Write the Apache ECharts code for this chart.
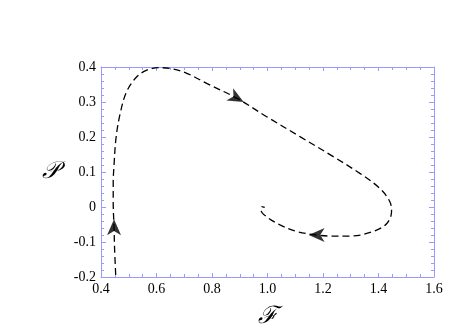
<!DOCTYPE html>
<html>
<head>
<meta charset="utf-8">
<script src="https://cdn.jsdelivr.net/npm/echarts@6/dist/echarts.min.js"></script>
<style>
  html, body { margin: 0; padding: 0; background: #fff; }
  #chart { width: 471px; height: 327px; }
</style>
</head>
<body>
<div id="chart"></div>
<script>
// trajectory in the (F, P) plane
var trajF = [0.453, 0.449, 0.447, 0.444, 0.444, 0.447, 0.454, 0.468, 0.492, 0.529, 0.565, 0.607,
    0.649, 0.709, 0.781, 0.889, 0.997, 1.117, 1.237, 1.333, 1.405, 1.441, 1.447, 1.430,
    1.381, 1.297, 1.225, 1.177, 1.105, 1.045, 0.997, 0.977, 0.979, 0.990];
var trajP = [-0.194, -0.120, -0.059, 0.015, 0.070, 0.120, 0.196, 0.263, 0.329, 0.372, 0.391, 0.398,
    0.396, 0.382, 0.353, 0.311, 0.258, 0.201, 0.144, 0.096, 0.053, 0.015, -0.013, -0.047,
    -0.070, -0.083, -0.083, -0.080, -0.070, -0.051, -0.028, -0.009, 0.001, -0.001];

// arrow heads: position and direction (degrees, counter-clockwise from "up")
var arrowF = [0.447, 0.889, 1.177];
var arrowP = [-0.058, 0.311, -0.080];
var arrowRot = [0, -119, 90];

var xTicks = [0.4, 1.6, 0.2];   // min, max, interval
var yTicks = [-0.2, 0.4, 0.1];

var chart = echarts.init(document.getElementById('chart'));

var line_data = trajF.map(function (f, i) { return [f, trajP[i]]; });
var arrow_data = arrowF.map(function (f, i) {
    return { value: [f, arrowP[i]], symbolRotate: arrowRot[i] };
});

var axisColor = '#9999ff';
var labelFont = { fontFamily: 'Liberation Serif', fontSize: 14, color: '#000' };

function frameAxis(pos, isX, show_labels, minor) {
    var t = isX ? xTicks : yTicks;
    var ax = {
        type: 'value',
        position: pos,
        min: t[0],
        max: t[1],
        interval: t[2],
        axisLine: { show: true, onZero: false, lineStyle: { color: axisColor, width: 1 } },
        axisTick: { show: true, inside: true, length: isX ? 4 : 5, lineStyle: { color: axisColor } },
        minorTick: { show: true, splitNumber: minor, length: 3, lineStyle: { color: axisColor } },
        splitLine: { show: false },
        axisLabel: { show: show_labels, margin: 5 }
    };
    if (show_labels) {
        ax.axisLabel = Object.assign({
            show: true,
            margin: 5,
            formatter: function (v) {
                if (Math.abs(v) < 1e-9) return '0';
                return v.toFixed(1);
            }
        }, labelFont);
    }
    return ax;
}

var xMain = frameAxis('bottom', true, true, 4);
xMain.name = 'ℱ';
xMain.nameLocation = 'middle';
xMain.nameGap = 28;
xMain.nameTextStyle = { fontFamily: 'DejaVu Serif', fontSize: 24, fontStyle: 'italic', color: '#000' };

var yMain = frameAxis('left', false, true, 5);
yMain.name = '𝒫';
yMain.nameLocation = 'middle';
yMain.nameGap = 42;
yMain.nameRotate = 0;
yMain.nameTextStyle = { fontFamily: 'DejaVu Serif', fontSize: 24, fontStyle: 'italic', color: '#000' };

chart.setOption({
    animation: false,
    backgroundColor: '#fff',
    grid: { left: 101, right: 37, top: 67, bottom: 50, containLabel: false, outerBoundsMode: 'none' },
    xAxis: [xMain, frameAxis('top', true, false, 4)],
    yAxis: [yMain, frameAxis('right', false, false, 5)],
    series: [
        {
            name: 'trajectory',
            type: 'line',
            data: line_data,
            smooth: 0.35,
            symbol: 'none',
            lineStyle: { color: '#000', width: 1.3, type: [7, 4] },
            z: 2
        },
        {
            name: 'arrows',
            type: 'scatter',
            data: arrow_data,
            symbol: 'path://M0,-14 L8,8 L0,2 L-8,8 Z',
            symbolSize: [14, 16],
            itemStyle: { color: '#000' },
            z: 3
        }
    ]
});
</script>
</body>
</html>
